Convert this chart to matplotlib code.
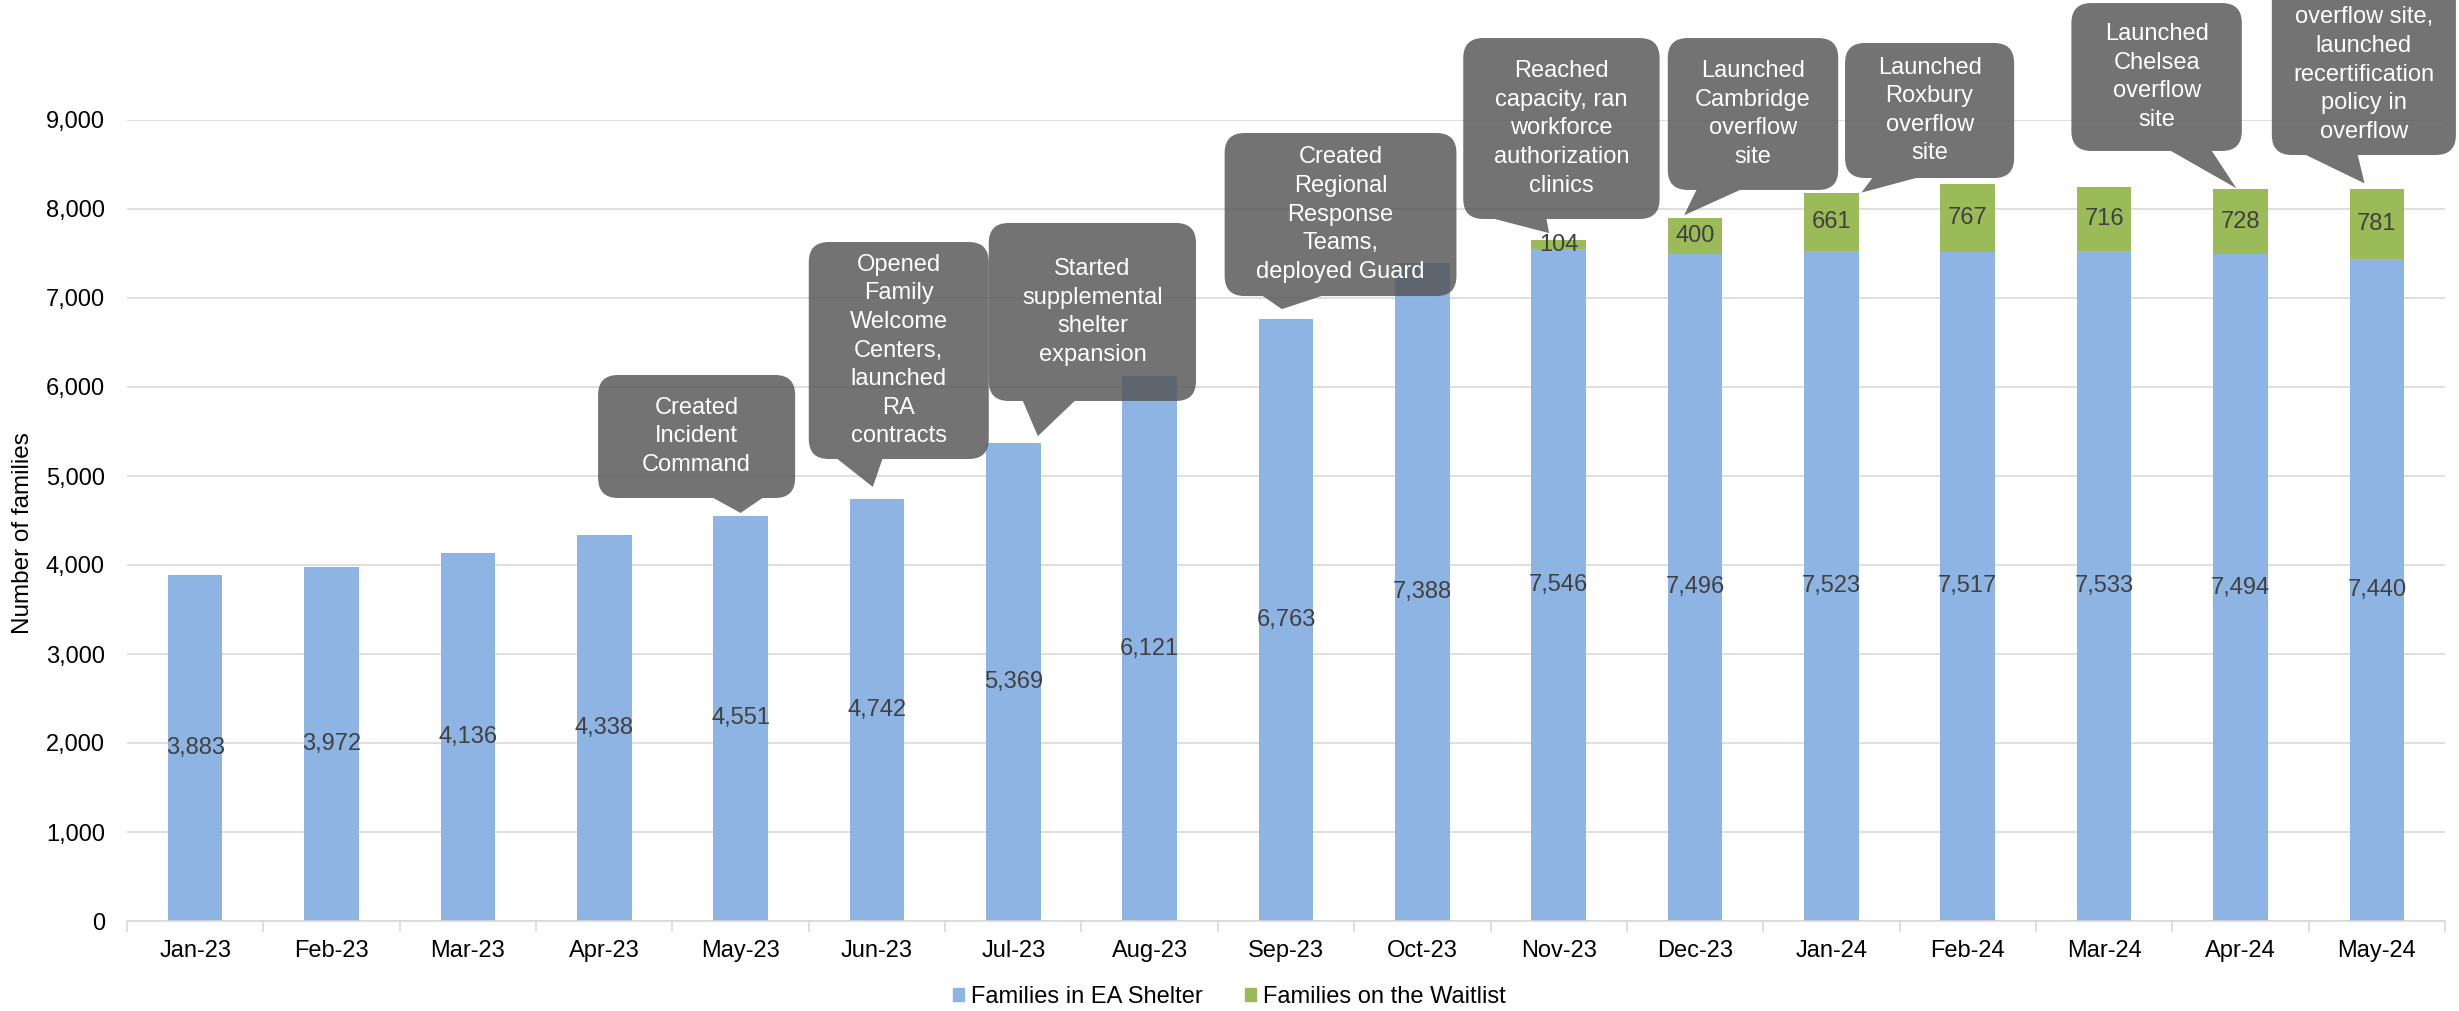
import numpy as np
import matplotlib
matplotlib.use("Agg")
import matplotlib.pyplot as plt
from matplotlib.path import Path
from matplotlib.patches import PathPatch, Patch
from matplotlib.ticker import FuncFormatter
from matplotlib.transforms import IdentityTransform

plt.rcParams['font.family'] = ['Liberation Sans', 'DejaVu Sans']

months = ["Jan-23", "Feb-23", "Mar-23", "Apr-23", "May-23", "Jun-23", "Jul-23", "Aug-23",
          "Sep-23", "Oct-23", "Nov-23", "Dec-23", "Jan-24", "Feb-24", "Mar-24", "Apr-24", "May-24"]
shelter = [3883, 3972, 4136, 4338, 4551, 4742, 5369, 6121, 6763, 7388,
           7546, 7496, 7523, 7517, 7533, 7494, 7440]
waitlist = [0, 0, 0, 0, 0, 0, 0, 0, 0, 0, 104, 400, 661, 767, 716, 728, 781]

notes = ["Created\nIncident\nCommand",
         "Opened\nFamily\nWelcome\nCenters,\nlaunched\nRA\ncontracts",
         "Started\nsupplemental\nshelter\nexpansion",
         "Created\nRegional\nResponse\nTeams,\ndeployed Guard",
         "Reached\ncapacity, ran\nworkforce\nauthorization\nclinics",
         "Launched\nCambridge\noverflow\nsite",
         "Launched\nRoxbury\noverflow\nsite",
         "Launched\nChelsea\noverflow\nsite",
         "Launched\nLexington\noverflow site,\nlaunched\nrecertification\npolicy in\noverflow"]
note_month = [4, 5, 6, 8, 10, 11, 12, 15, 16]

# box (x0, x1, ybottom, ytop), tail base (bx0, bx1), tip offset (dx, dy)
boxes = [(2.955, 4.40, 4753, 6135, 3.80, 4.16, 0.0, 34),
         (4.50, 5.82, 5191, 7629, 4.71, 5.04, -0.03, 135),
         (5.82, 7.34, 5843, 7843, 6.07, 6.45, 0.18, 79),
         (7.55, 9.25, 7022, 8854, 7.83, 8.26, -0.03, 112),
         (9.30, 10.74, 7888, 9921, 9.53, 9.91, -0.07, 79),
         (10.80, 12.05, 8214, 9921, 11.01, 11.33, -0.08, 34),
         (12.10, 13.34, 8348, 9865, 12.30, 12.62, 0.22, 0),
         (13.76, 15.01, 8652, 10314, 14.49, 14.79, -0.03, 11),
         (15.23, 16.58, 8607, 11056, 15.48, 15.86, -0.09, 67)]

blue = "#8EB4E3"
green = "#9BBB59"
grid = "#D9D9D9"
lab = "#404040"

fig = plt.figure(figsize=(24.59, 10.11), dpi=100)
ax = fig.add_axes([127/2459, 90/1011, 2318/2459, 801/1011])

x = np.arange(len(months))
b1 = ax.bar(x, shelter, width=0.4, color=blue, zorder=2)
b2 = ax.bar(x, waitlist, width=0.4, bottom=shelter, color=green, zorder=2)
ax.bar_label(b1, labels=[f"{v:,}" for v in shelter], label_type='center', fontsize=17, color=lab)
ax.bar_label(b2, labels=[f"{v:,}" if v > 0 else "" for v in waitlist], label_type='center',
             fontsize=17, color=lab)

ax.set_xlim(-0.5, len(months) - 0.5)
ax.set_ylim(0, 9000)
ax.set_yticks(np.arange(0, 9001, 1000))
ax.yaxis.set_major_formatter(FuncFormatter(lambda v, p: f"{int(v):,}"))
ax.set_xticks(x)
ax.set_xticklabels(months)
ax.set_xticks(np.arange(-0.5, len(months), 1), minor=True)
ax.tick_params(axis='x', which='major', length=0, pad=14, labelsize=17)
ax.tick_params(axis='x', which='minor', length=8, width=1.2, color=grid)
ax.tick_params(axis='y', length=0, pad=16, labelsize=17)
ax.grid(axis='y', color=grid, linewidth=1.2, zorder=0)
ax.set_axisbelow(True)
for s in ['top', 'right', 'left']:
    ax.spines[s].set_visible(False)
ax.spines['bottom'].set_color(grid)
ax.spines['bottom'].set_linewidth(1.2)

fig.text(23/2459, 1 - 533/1011, "Number of families", rotation=90, ha='center', va='center', fontsize=17.5)

fig.canvas.draw()
tr = ax.transData
r = 20
total = np.array(shelter) + np.array(waitlist)
for txt, m, bx in zip(notes, note_month, boxes):
    x0, x1, yb, yt, t0, t1, dx, dy = bx
    (px0, py0), (px1, py1) = tr.transform([(x0, yb), (x1, yt)])
    qx0 = tr.transform((t0, yb))[0]
    qx1 = tr.transform((t1, yb))[0]
    tx, ty = tr.transform((m + dx, total[m] + dy))
    verts = [(px0 + r, py0), (qx0, py0), (tx, ty), (qx1, py0), (px1 - r, py0),
             (px1, py0), (px1, py0 + r), (px1, py1 - r), (px1, py1), (px1 - r, py1),
             (px0 + r, py1), (px0, py1), (px0, py1 - r), (px0, py0 + r), (px0, py0),
             (px0 + r, py0), (px0 + r, py0)]
    codes = [Path.MOVETO, Path.LINETO, Path.LINETO, Path.LINETO, Path.LINETO,
             Path.CURVE3, Path.CURVE3, Path.LINETO, Path.CURVE3, Path.CURVE3,
             Path.LINETO, Path.CURVE3, Path.CURVE3, Path.LINETO, Path.CURVE3,
             Path.CURVE3, Path.CLOSEPOLY]
    p = PathPatch(Path(verts, codes), facecolor="#545454", edgecolor='none', alpha=0.82,
                  transform=IdentityTransform(), zorder=5, clip_on=False)
    ax.add_artist(p)
    ax.text((x0 + x1) / 2, (yb + yt) / 2, txt, ha='center', va='center', color='white',
            fontsize=17, linespacing=1.39, multialignment='center', zorder=6, clip_on=False)

handles = [Patch(color=blue, label="Families in EA Shelter"),
           Patch(color=green, label="Families on the Waitlist")]
fig.legend(handles=handles, loc='center', bbox_to_anchor=(0.5, 14/1011), ncol=2, frameon=False,
           fontsize=17, handlelength=0.47, handleheight=0.47, handletextpad=0.3, columnspacing=1.8)

fig.savefig("out.png", dpi=100)
